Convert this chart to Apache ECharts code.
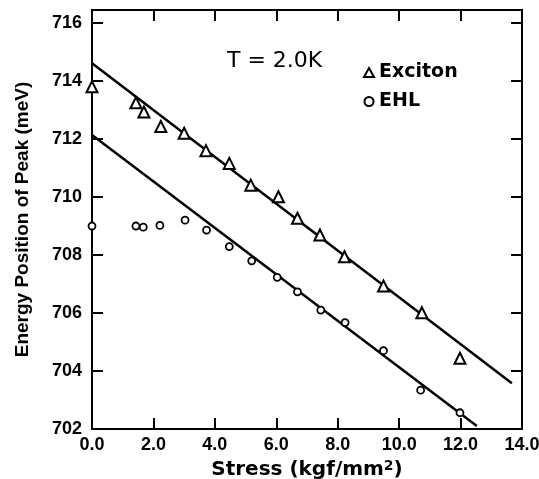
<!DOCTYPE html>
<html>
<head>
<meta charset="utf-8">
<script src="https://cdn.jsdelivr.net/npm/echarts@6/dist/echarts.min.js"></script>
<style>
  html, body { margin: 0; padding: 0; background: #fff; }
  #chart { width: 539px; height: 479px; }
</style>
</head>
<body>
<div id="chart"></div>
<script>
// stress (kgf/mm2) and peak energy (meV)
var excitonStress = [0.0, 1.43, 1.69, 2.24, 3.0, 3.71, 4.47, 5.17, 6.07, 6.69, 7.42, 8.22, 9.49, 10.74, 11.98];
var excitonEnergy = [713.8, 713.25, 712.93, 712.43, 712.2, 711.6, 711.16, 710.41, 710.01, 709.27, 708.69, 707.94, 706.93, 706.01, 704.44];

var ehlStress = [0.0, 1.43, 1.67, 2.21, 3.03, 3.73, 4.47, 5.2, 6.03, 6.69, 7.45, 8.24, 9.49, 10.7, 11.98];
var ehlEnergy = [709.0, 709.0, 708.96, 709.02, 709.2, 708.86, 708.29, 707.8, 707.23, 706.73, 706.1, 705.67, 704.7, 703.34, 702.56];

// fitted straight lines (end points)
var excitonFitX = [0.0, 13.67];
var excitonFitY = [714.61, 703.58];
var ehlFitX = [0.0, 12.53];
var ehlFitY = [712.14, 702.1];

var xTicks = [0, 2, 4, 6, 8, 10, 12, 14];
var yTicks = [702, 704, 706, 708, 710, 712, 714, 716];

function pairs(xs, ys) {
    return xs.map(function (x, i) { return [x, ys[i]]; });
}

var font = 'Liberation Sans';
var wide = 'DejaVu Sans';
var chart = echarts.init(document.getElementById('chart'));

var frameX = {
    type: 'value', min: 0, max: 14, interval: 2,
    axisLine: { show: true, onZero: false, lineStyle: { color: '#000', width: 2 } },
    axisTick: { show: true, inside: true, length: 11, lineStyle: { color: '#000', width: 2 } },
    splitLine: { show: false }
};
var frameY = {
    type: 'value', min: 702, max: 716.45, interval: 2,
    axisLine: { show: true, onZero: false, lineStyle: { color: '#000', width: 2 } },
    axisTick: { show: true, inside: true, length: 11, lineStyle: { color: '#000', width: 2 } },
    splitLine: { show: false }
};

chart.setOption({
    animation: false,
    backgroundColor: '#fff',
    grid: { left: 92, right: 17, top: 10, bottom: 50, outerBoundsMode: 'none', containLabel: false },
    title: {
        text: 'T = 2.0K',
        left: 222, top: 45,
        textStyle: { fontFamily: wide, fontSize: 22, fontWeight: 'normal', color: '#000' }
    },
    legend: {
        data: ['Exciton', 'EHL'],
        orient: 'vertical',
        left: 358, top: 58,
        itemWidth: 10, itemHeight: 9, itemGap: 10,
        textStyle: { fontFamily: wide, fontSize: 19, fontWeight: 'bold', color: '#000' }
    },
    xAxis: [
        Object.assign({}, frameX, {
            position: 'bottom',
            name: '{a|Stress (kgf/mm}{s|2}{a|)}',
            nameLocation: 'middle', nameGap: 24,
            nameTextStyle: {
                rich: {
                    a: { fontFamily: wide, fontSize: 20, fontWeight: 'bold', color: '#000' },
                    s: { fontFamily: wide, fontSize: 14, fontWeight: 'bold', color: '#000', verticalAlign: 'top', padding: [0, 0, 8, 0] }
                }
            },
            axisLabel: {
                margin: 7, fontFamily: font, fontSize: 18, fontWeight: 'bold', color: '#000',
                formatter: function (v) { return xTicks.indexOf(v) >= 0 ? v.toFixed(1) : ''; }
            }
        }),
        Object.assign({}, frameX, { position: 'top', axisLabel: { show: false } })
    ],
    yAxis: [
        Object.assign({}, frameY, {
            position: 'left',
            name: 'Energy Position of Peak (meV)',
            nameLocation: 'middle', nameGap: 60,
            nameTextStyle: { fontFamily: font, fontSize: 19, fontWeight: 'bold', color: '#000' },
            axisLabel: {
                margin: 10, fontFamily: font, fontSize: 18, fontWeight: 'bold', color: '#000',
                formatter: function (v) { return yTicks.indexOf(v) >= 0 ? String(v) : ''; }
            }
        }),
        Object.assign({}, frameY, { position: 'right', axisLabel: { show: false } })
    ],
    series: [
        {
            name: 'Exciton fit', type: 'line', data: pairs(excitonFitX, excitonFitY),
            showSymbol: false, symbol: 'none', silent: true,
            lineStyle: { color: '#000', width: 2.5 }, z: 2
        },
        {
            name: 'EHL fit', type: 'line', data: pairs(ehlFitX, ehlFitY),
            showSymbol: false, symbol: 'none', silent: true,
            lineStyle: { color: '#000', width: 2.5 }, z: 2
        },
        {
            name: 'Exciton', type: 'scatter', data: pairs(excitonStress, excitonEnergy),
            symbol: 'triangle', symbolSize: 11,
            itemStyle: { color: '#fff', borderColor: '#000', borderWidth: 2, opacity: 1 }, z: 3
        },
        {
            name: 'EHL', type: 'scatter', data: pairs(ehlStress, ehlEnergy),
            symbol: 'circle', symbolSize: 7,
            itemStyle: { color: '#fff', borderColor: '#000', borderWidth: 1.8, opacity: 1 }, z: 3
        }
    ]
});
</script>
</body>
</html>
